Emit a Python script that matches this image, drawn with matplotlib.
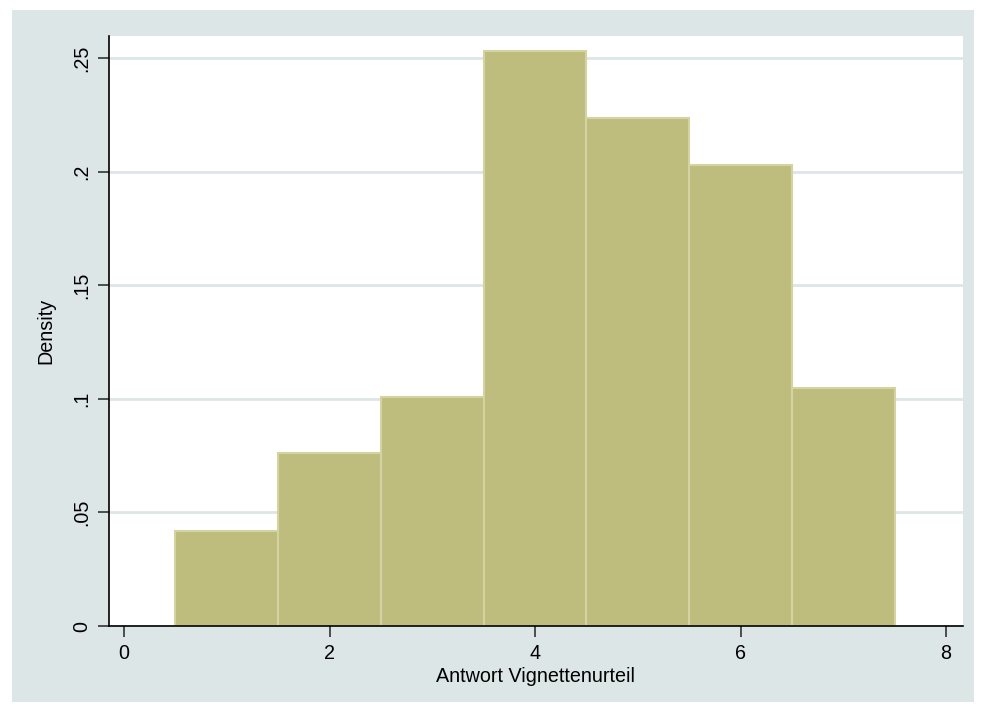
import numpy as np
import matplotlib.pyplot as plt
from matplotlib.patches import Rectangle

plt.rcParams['font.family'] = ['Liberation Sans', 'DejaVu Sans']

# histogram bins (left edges) and density heights
bin_left = [0.5, 1.5, 2.5, 3.5, 4.5, 5.5, 6.5]
density = [0.0418, 0.0761, 0.1008, 0.2531, 0.2236, 0.2029, 0.1048]
xticks = [0, 2, 4, 6, 8]
yticks = [0, 0.05, 0.10, 0.15, 0.20, 0.25]
ytick_labels = ['0', '.05', '.1', '.15', '.2', '.25']

fig = plt.figure(figsize=(9.86, 7.14), dpi=100)
fig.patch.set_facecolor('white')
fig.patches.append(Rectangle((12/986, 12/714), 962/986, 692/714, transform=fig.transFigure,
                             facecolor='#dde6e7', edgecolor='none', zorder=-5))

ax = fig.add_axes([109/986, 88/714, 854/986, 590/714])
ax.set_facecolor('white')
ax.bar(bin_left, density, width=1.0, align='edge', color='#bfbd7e',
       edgecolor='#d4d3a2', linewidth=1.5, zorder=3)

ax.set_xlim(-0.146, 8.165)
ax.set_ylim(0, 0.2597)
ax.set_xticks(xticks)
ax.set_yticks(yticks)
ax.set_yticklabels(ytick_labels, rotation=90, va='center')
ax.grid(axis='y', color='#dde6e7', linewidth=2, zorder=1)
ax.set_axisbelow(True)

for s in ['top', 'right']:
    ax.spines[s].set_visible(False)
for s in ['left', 'bottom']:
    ax.spines[s].set_linewidth(1.2)
    ax.spines[s].set_zorder(4)
ax.tick_params(direction='out', length=8, width=1.2, color='#333333', labelsize=14.2, pad=5)

ax.set_xlabel('Antwort Vignettenurteil', fontsize=14.2, labelpad=3)
ax.set_ylabel('Density', fontsize=14.2, labelpad=12)

fig.savefig('out.png', dpi=100)
